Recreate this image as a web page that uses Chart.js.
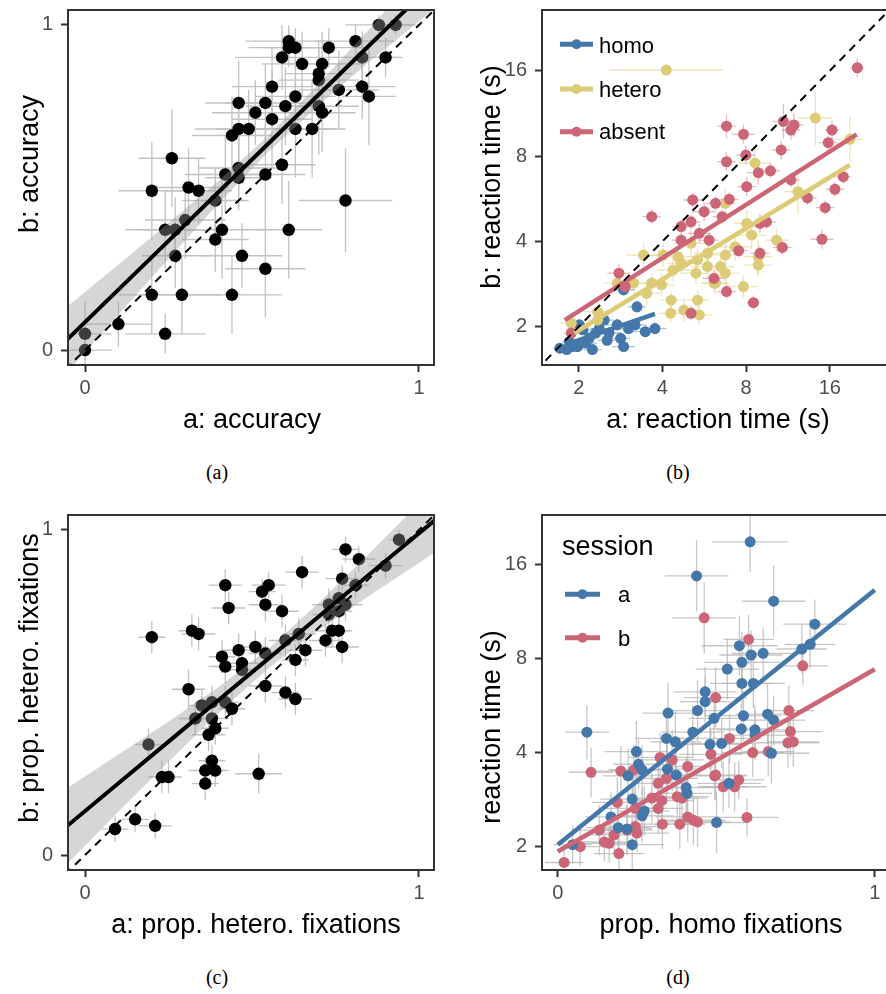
<!DOCTYPE html>
<html>
<head>
<meta charset="utf-8">
<script src="https://cdn.jsdelivr.net/npm/chart.js@4.4.1/dist/chart.umd.min.js"></script>
<style>
  html, body { margin: 0; padding: 0; background: #fff; overflow: hidden; }
  #page { position: relative; width: 886px; height: 994px; overflow: hidden; }
  canvas { position: absolute; }
  .cap { position: absolute; width: 60px; margin-left: -30px; text-align: center;
         font: 20px "Liberation Serif", "Times New Roman", serif; line-height: 20px; }
</style>
</head>
<body>
<div id="page">
  <canvas id="pa" width="443" height="445" style="left:0;top:0"></canvas>
  <canvas id="pb" width="441" height="445" style="left:455px;top:0"></canvas>
  <canvas id="pc" width="443" height="445" style="left:0;top:505px"></canvas>
  <canvas id="pd" width="441" height="445" style="left:455px;top:505px"></canvas>
  <div class="cap" style="left:217px;top:462px">(a)</div>
  <div class="cap" style="left:678px;top:462px">(b)</div>
  <div class="cap" style="left:217px;top:967px">(c)</div>
  <div class="cap" style="left:678px;top:967px">(d)</div>
</div>
<script>
// tick labels
const linTicks = [0, 1];
const logTicks = [2, 4, 8, 16];

// (a) accuracy, session a vs session b
const aX = [0.00,0.00,0.10,0.24,0.20,0.29,0.44,0.27,0.47,0.54, 0.24,0.27,0.30,0.39,0.41,0.20,0.31,0.34,0.26,0.39,
            0.42,0.46,0.46,0.44,0.46,0.49,0.46,0.51,0.61,0.61, 0.63,0.59,0.65,0.73,0.81,0.88,0.93,0.83,0.90,0.71,
            0.70,0.70,0.56,0.63,0.76,0.83,0.85,0.54,0.60,0.56, 0.70,0.71,0.63,0.68,0.59,0.54,0.78,0.61];
const aY = [0.05,0.00,0.08,0.05,0.17,0.17,0.17,0.29,0.29,0.25, 0.37,0.37,0.40,0.34,0.37,0.49,0.50,0.49,0.59,0.46,
            0.54,0.56,0.53,0.66,0.68,0.68,0.76,0.73,0.95,0.93, 0.93,0.90,0.88,0.93,0.95,1.00,1.00,0.90,0.90,0.88,
            0.85,0.83,0.81,0.78,0.80,0.81,0.78,0.76,0.75,0.71, 0.75,0.73,0.68,0.68,0.57,0.54,0.46,0.37];
const aEx = [.08,.08,.10,.12,.10,.12,.15,.10,.12,.12, .12,.10,.12,.10,.12,.10,.12,.10,.10,.10,
             .12,.12,.10,.12,.13,.10,.10,.13,.13,.12, .10,.14,.12,.12,.12,.10,.06,.10,.05,.12,
             .10,.12,.12,.12,.12,.10,.08,.12,.12,.12, .12,.10,.12,.10,.10,.12,.14,.10];
const aEy = [.10,.03,.07,.06,.12,.12,.12,.10,.10,.15, .12,.10,.12,.10,.15,.15,.12,.10,.15,.10,
             .12,.12,.10,.12,.10,.12,.13,.10,.05,.06, .06,.10,.10,.06,.05,.03,.03,.08,.06,.10,
             .10,.10,.12,.12,.12,.10,.15,.12,.12,.15, .15,.12,.15,.15,.12,.15,.16,.15];
const aFitX   = [-0.06, 0.10, 0.25, 0.40, 0.55, 0.70, 0.85, 1.06];
const aFitY   = [0.026, 0.186, 0.336, 0.486, 0.636, 0.786, 0.936, 1.146];
const aBandLo = [-0.076, 0.109, 0.281, 0.451, 0.611, 0.753, 0.886, 1.061];
const aBandHi = [0.128, 0.263, 0.391, 0.521, 0.661, 0.819, 0.986, 1.231];
const linDiag = [-0.06, 1.06];

// (b) reaction time by trial type
const bHomoX = [1.71,1.81,1.90,1.98,2.12,2.24,2.18,2.30,2.37,2.57,2.75,2.83,2.90,3.19,3.24,3.47,3.76,2.47,2.07,2.90,2.01,3.02,2.53,1.85];
const bHomoY = [1.68,1.66,1.70,1.70,1.75,1.66,1.82,1.90,1.97,1.90,2.03,1.82,1.70,2.03,2.35,1.92,1.97,2.11,1.95,2.70,2.03,1.97,1.79,1.77];
const bHomoEx = [.06,.08,.06,.08,.10,.08,.06,.10,.08,.10,.10,.08,.10,.10,.08,.12,.10,.08,.06,.10,.06,.12,.08,.06];
const bHomoEy = [.03,.03,.04,.03,.04,.03,.04,.05,.04,.04,.05,.04,.03,.05,.05,.05,.05,.04,.04,.05,.04,.05,.04,.03];
const bHetX = [4.13,1.88,2.34,2.75,3.42,4.02,3.51,3.66,3.97,4.30, 4.28,4.78,5.35,5.43,4.37,4.55,4.67,5.28,5.81,5.81,
               5.07,3.15,2.34,6.13,14.2,18.9,8.61,12.3,8.04,8.38, 10.3,7.31,6.74,8.85,8.85,6.47,6.74,6.21,7.83,6.74,5.35];
const bHetY = [16.1,2.06,2.26,2.85,3.58,3.58,2.62,2.85,2.81,2.48, 2.23,2.29,2.48,2.20,3.17,3.53,3.35,3.09,3.26,3.63,
               3.94,2.85,2.11,2.85,10.9,9.17,7.55,5.99,4.63,4.21, 4.04,3.83,3.58,3.53,3.30,3.26,3.09,2.85,2.77,5.45,3.44];
const bHetEx = [.60,.10,.12,.12,.15,.15,.12,.15,.12,.10, .10,.12,.10,.12,.15,.15,.12,.12,.15,.12,
                .15,.12,.10,.12,.15,.12,.15,.12,.12,.12, .10,.15,.15,.12,.12,.12,.12,.12,.12,.10,.10];
const bHetEy = [.03,.06,.08,.08,.10,.10,.10,.08,.10,.08, .08,.10,.08,.08,.10,.10,.10,.10,.10,.10,
                .12,.08,.06,.08,.25,.20,.15,.20,.12,.12, .10,.12,.10,.15,.10,.10,.10,.10,.10,.12,.10];
const bAbsX = [3.66,2.79,1.88,5.14,5.65,5.07,4.67,4.67,5.43,2.94, 5.07,6.13,6.21,20.1,10.9,11.9,11.6,6.80,7.83,16.3,
               15.8,10.7,7.98,6.80,8.85,9.79,11.6,8.04,17.9,16.7, 13.3,15.4,6.96,6.56,15.0,10.8,8.97,9.47,8.97,7.52,
               5.89,6.80,8.50];
const bAbsY = [4.89,3.09,1.90,5.60,5.09,4.69,4.51,4.04,4.27,2.77, 2.23,2.96,5.45,16.4,10.6,10.3,9.89,10.2,9.55,9.89,
               8.92,8.41,8.07,7.64,6.99,7.10,6.59,6.24,6.77,6.11, 5.70,5.26,5.63,4.89,4.07,3.81,4.63,4.69,3.63,3.71,
               4.04,2.66,2.43];
const bAbsEx = [.08,.10,.06,.08,.10,.08,.08,.08,.10,.08, .08,.10,.08,.06,.10,.08,.08,.08,.10,.06,
                .08,.08,.08,.08,.10,.08,.08,.08,.06,.08, .08,.08,.08,.08,.10,.08,.08,.08,.08,.08, .08,.08,.06];
const bAbsEy = [.06,.08,.05,.06,.08,.06,.06,.06,.08,.06, .06,.08,.06,.08,.15,.10,.08,.10,.08,.08,
                .06,.08,.08,.08,.10,.06,.06,.08,.06,.06, .06,.06,.06,.06,.08,.06,.08,.06,.06,.06, .06,.06,.06];
const bHomoFitX = [1.93, 3.76], bHomoFitY = [1.77, 2.22];
const bHetFitX  = [1.93, 18.9], bHetFitY  = [1.90, 7.44];
const bAbsFitX  = [1.78, 20.0], bAbsFitY  = [2.11, 9.55];
const logDiag = [1.4, 28];
const bLegend = ['homo', 'hetero', 'absent'];

// (c) proportion of hetero fixations
const cX = [.42,.55,.53,.54,.43,.20,.32,.34,.41,.46, .51,.42,.47,.47,.31,.35,.38,.42,.44,.33,
            .38,.39,.37,.19,.38,.36,.39,.36,.23,.25, .52,.15,.09,.21,.78,.82,.94,.90,.65,.77,
            .81,.59,.73,.76,.78,.76,.73,.74,.76,.72, .77,.66,.60,.64,.63,.54,.54,.60,.63];
const cY = [.83,.83,.81,.77,.76,.67,.69,.68,.61,.63, .64,.58,.59,.57,.51,.46,.47,.47,.45,.42,
            .42,.39,.37,.34,.29,.26,.26,.22,.24,.24, .25,.11,.08,.09,.94,.91,.97,.89,.87,.85,
            .83,.75,.77,.79,.77,.75,.74,.69,.69,.66, .64,.63,.66,.68,.60,.62,.52,.50,.48];
const cEx = [.05,.05,.04,.05,.05,.04,.04,.05,.04,.05, .04,.05,.05,.04,.05,.04,.05,.04,.04,.05,
             .05,.04,.05,.04,.04,.05,.04,.04,.04,.04, .07,.04,.04,.05,.04,.05,.03,.05,.05,.05,
             .04,.05,.05,.04,.05,.04,.05,.05,.04,.05, .05,.05,.05,.05,.04,.05,.05,.04,.05];
const cEy = [.05,.04,.04,.05,.05,.05,.05,.05,.05,.05, .05,.05,.06,.05,.06,.05,.05,.05,.05,.05,
             .05,.05,.05,.05,.05,.04,.05,.05,.05,.05, .06,.04,.04,.04,.04,.04,.03,.04,.05,.04,
             .04,.05,.05,.04,.05,.05,.05,.05,.05,.05, .05,.05,.05,.05,.05,.05,.05,.05,.05];
const cFitX   = [-0.06, 0.10, 0.25, 0.40, 0.55, 0.70, 0.85, 1.06];
const cFitY   = [0.084, 0.221, 0.349, 0.477, 0.605, 0.734, 0.862, 1.041];
const cBandLo = [-0.034, 0.133, 0.287, 0.437, 0.575, 0.692, 0.797, 0.939];
const cBandHi = [0.202, 0.309, 0.411, 0.517, 0.635, 0.776, 0.927, 1.143];

// (d) reaction time vs proportion of homo fixations
const dAX = [.438,.092,.348,.465,.465,.441,.493,.426,.343,.371, .480,.248,.255,.266,.222,.346,.374,.405,.408,.235,
             .273,.266,.168,.191,.219,.235,.047,.501,.607,.681, .811,.770,.796,.573,.610,.648,.581,.535,.581,.617,
             .586,.662,.681,.579,.622,.622,.517,.674,.540];
const dAY = [14.7,4.65,5.35,6.26,5.82,5.45,5.15,4.65,4.44,4.33, 4.25,4.03,3.67,3.52,3.37,3.54,3.39,3.09,2.96,2.84,
             2.60,2.51,2.49,2.30,2.28,2.03,2.03,2.39,18.9,12.2, 10.3,8.58,8.88,8.79,8.21,8.31,7.78,7.40,6.66,6.66,
             5.25,5.31,5.08,4.76,4.73,4.55,4.28,3.98,3.19];
const dAEx = [.10,.07,.08,.10,.08,.10,.08,.10,.10,.08, .10,.10,.08,.10,.08,.10,.08,.10,.08,.10,
              .08,.10,.08,.10,.08,.10,.06,.10,.12,.10, .10,.08,.08,.12,.10,.10,.12,.10,.10,.10,
              .12,.10,.10,.10,.12,.10,.10,.12,.10];
const dAEy = [.30,.22,.25,.20,.20,.25,.20,.22,.20,.25, .20,.25,.20,.20,.22,.20,.20,.25,.20,.20,
              .20,.22,.20,.20,.20,.20,.15,.25,.25,.30, .20,.20,.20,.25,.20,.20,.25,.25,.20,.20,
              .20,.25,.20,.20,.20,.20,.20,.25,.20];
const dBX = [.462,.105,.199,.240,.323,.361,.410,.483,.498,.317, .343,.188,.245,.297,.328,.317,.377,.392,.410,.428,
             .385,.330,.245,.250,.219,.178,.147,.162,.131,.071, .193,.020,.498,.602,.773,.729,.734,.726,.743,.542,
             .615,.664,.495,.522,.558,.571,.597,.441];
const dBY = [10.8,3.46,3.49,3.52,3.86,3.79,3.61,3.95,3.39,3.19, 3.31,2.77,2.65,2.86,2.81,2.65,2.89,2.86,2.49,2.43,
             2.36,2.36,2.32,2.21,2.26,2.18,2.07,2.05,2.26,2.00, 1.90,1.78,6.00,9.21,7.58,5.45,4.67,4.30,4.33,4.44,
             4.00,4.03,3.37,3.11,3.11,3.27,2.48,2.40];
const dBEx = [.10,.07,.08,.08,.10,.10,.08,.10,.10,.08, .10,.08,.10,.08,.10,.08,.10,.08,.10,.10,
              .08,.10,.08,.10,.08,.08,.08,.08,.08,.06, .08,.06,.10,.08,.08,.08,.10,.10,.08,.10,
              .10,.08,.10,.08,.10,.08,.10,.10];
const dBEy = [.30,.20,.20,.20,.20,.25,.20,.20,.20,.20, .20,.20,.20,.20,.20,.20,.20,.20,.20,.20,
              .20,.20,.15,.15,.20,.15,.15,.15,.20,.15, .15,.10,.25,.20,.15,.20,.20,.20,.20,.20,
              .20,.20,.20,.20,.20,.15,.15,.20];
const dFitX = [0, 1];
const dAFitY = [2.03, 13.25];
const dBFitY = [1.93, 7.39];
const dLegend = ['a', 'b'];

const FONT = '"Liberation Sans", Arial, Helvetica, sans-serif';
const BLUE = '#4477AA', YELLOW = '#DDCC77', RED = '#CC6677';

function pts(xs, ys) { return xs.map((x, i) => ({ x: x, y: ys[i] })); }

function axis(type, min, max, tickVals, size, horiz) {
  return {
    type: type, min: min, max: max,
    afterBuildTicks: s => { s.ticks = tickVals.map(v => ({ value: v })); },
    afterFit: s => {
      if (horiz) s.height = size; else s.width = size;
      // keep the plot area where it is, no extra room for edge labels
      s.paddingTop = 0; s.paddingBottom = 0; s.paddingLeft = 0; s.paddingRight = 0;
    },
    ticks: { color: '#4d4d4d', font: { family: FONT, size: 20 }, padding: horiz ? 4 : 8,
             autoSkip: false, maxRotation: 0, callback: v => String(v) },
    grid: { drawOnChartArea: false, drawTicks: true, tickLength: 7, tickColor: '#333', tickWidth: 2 },
    border: { display: false },
    title: { display: false }
  };
}

function scatterSet(xs, ys, ex, ey, color, errColor, r, order, relX, relY) {
  return { type: 'scatter', data: pts(xs, ys), backgroundColor: color, pointRadius: r,
           pointHoverRadius: r, borderWidth: 0, order: order, clip: 0,
           errX: ex, errY: ey, errColor: errColor, relX: relX, relY: relY };
}
function lineSet(xs, ys, color, width, order, dash) {
  return { type: 'line', data: pts(xs, ys), borderColor: color, borderWidth: width,
           borderDash: dash || [], pointRadius: 0, fill: false, tension: 0, order: order, clip: 0 };
}
function bandSets(xs, lo, hi) {
  return [
    { type: 'line', data: pts(xs, lo), borderWidth: 0, pointRadius: 0, fill: false, order: 2, clip: 0 },
    { type: 'line', data: pts(xs, hi), borderWidth: 0, pointRadius: 0, fill: '-1', order: 2, clip: 0,
      backgroundColor: 'rgba(153,153,153,0.4)' }
  ];
}

function deco(meta) {
  return {
    id: 'deco',
    beforeDatasetsDraw(chart) {
      const ctx = chart.ctx, a = chart.chartArea, xs = chart.scales.x, ys = chart.scales.y;
      ctx.save();
      ctx.beginPath();
      ctx.rect(a.left, a.top, a.right - a.left, a.bottom - a.top);
      ctx.clip();
      ctx.lineWidth = 1.3;
      chart.data.datasets.forEach(ds => {
        if (!ds.errX) return;
        ctx.strokeStyle = ds.errColor;
        ds.data.forEach((p, i) => {
          const ex = ds.errX[i], ey = ds.errY[i];
          const x0 = ds.relX ? p.x / (1 + ex) : p.x - ex, x1 = ds.relX ? p.x * (1 + ex) : p.x + ex;
          const y0 = ds.relY ? p.y / (1 + ey) : p.y - ey, y1 = ds.relY ? p.y * (1 + ey) : p.y + ey;
          const px = xs.getPixelForValue(p.x), py = ys.getPixelForValue(p.y);
          ctx.beginPath();
          ctx.moveTo(xs.getPixelForValue(x0), py);
          ctx.lineTo(xs.getPixelForValue(x1), py);
          ctx.moveTo(px, ys.getPixelForValue(y0));
          ctx.lineTo(px, ys.getPixelForValue(y1));
          ctx.stroke();
        });
      });
      ctx.restore();
    },
    afterDraw(chart) {
      const ctx = chart.ctx, a = chart.chartArea;
      ctx.save();
      ctx.strokeStyle = '#333';
      ctx.lineWidth = 2;
      ctx.strokeRect(a.left, a.top, a.right - a.left, a.bottom - a.top);
      ctx.fillStyle = '#000';
      ctx.font = '27px ' + FONT;
      ctx.textAlign = 'center';
      ctx.textBaseline = 'alphabetic';
      ctx.fillText(meta.xTitle, meta.xPos[0], meta.xPos[1]);
      ctx.save();
      ctx.translate(meta.yPos[0], meta.yPos[1]);
      ctx.rotate(-Math.PI / 2);
      ctx.fillText(meta.yTitle, 0, 0);
      ctx.restore();
      const L = meta.legend;
      if (L) {
        ctx.textAlign = 'left';
        if (L.title) {
          ctx.font = '27px ' + FONT;
          ctx.fillText(L.title, L.titlePos[0], L.titlePos[1]);
        }
        L.labels.forEach((lab, i) => {
          const y = L.lineY[i];
          ctx.strokeStyle = L.colors[i];
          ctx.lineWidth = 5;
          ctx.beginPath();
          ctx.moveTo(L.x0, y);
          ctx.lineTo(L.x1, y);
          ctx.stroke();
          ctx.fillStyle = L.colors[i];
          ctx.beginPath();
          ctx.arc((L.x0 + L.x1) / 2, y, 5, 0, Math.PI * 2);
          ctx.fill();
          ctx.fillStyle = '#000';
          ctx.font = '22px ' + FONT;
          ctx.fillText(lab, L.textX, L.baseY[i]);
        });
      }
      ctx.restore();
    }
  };
}

function makeChart(id, datasets, xAxis, yAxis, padRight, meta) {
  return new Chart(id, {
    type: 'scatter',
    data: { datasets: datasets },
    options: {
      responsive: false,
      animation: false,
      events: [],
      layout: { padding: { top: 10, right: padRight, left: 0, bottom: 0 } },
      scales: { x: xAxis, y: yAxis },
      plugins: { legend: { display: false }, tooltip: { enabled: false } }
    },
    plugins: [deco(meta)]
  });
}

// (a)
makeChart('pa', [
  lineSet(linDiag, linDiag, '#000', 2, 0, [8, 6]),
  lineSet(aFitX, aFitY, '#000', 4, 1),
  ...bandSets(aFitX, aBandLo, aBandHi),
  scatterSet(aX, aY, aEx, aEy, '#000', '#c2c2c2', 6.2, 5, false, false)
], axis('linear', -0.051, 1.045, linTicks, 80, true),
   axis('linear', -0.046, 1.046, linTicks, 68, false), 9,
   { xTitle: 'a: accuracy', xPos: [252, 428], yTitle: 'b: accuracy', yPos: [38, 164] });

// (b)
makeChart('pb', [
  lineSet(logDiag, logDiag, '#000', 2, 0, [8, 6]),
  lineSet(bHomoFitX, bHomoFitY, BLUE, 4.5, 1),
  lineSet(bHetFitX, bHetFitY, YELLOW, 4.5, 1),
  lineSet(bAbsFitX, bAbsFitY, RED, 4.5, 1),
  scatterSet(bHomoX, bHomoY, bHomoEx, bHomoEy, BLUE, 'rgba(68,119,170,0.45)', 5.5, 7, true, true),
  scatterSet(bHetX, bHetY, bHetEx, bHetEy, YELLOW, 'rgba(221,204,119,0.5)', 5.5, 6, true, true),
  scatterSet(bAbsX, bAbsY, bAbsEx, bAbsEy, RED, 'rgba(204,102,119,0.45)', 5.5, 5, true, true)
], axis('logarithmic', 1.475, 26.46, logTicks, 80, true),
   axis('logarithmic', 1.465, 26.22, logTicks, 87, false), 0,
   { xTitle: 'a: reaction time (s)', xPos: [263, 428], yTitle: 'b: reaction time (s)', yPos: [45, 177],
     legend: { labels: bLegend, colors: [BLUE, YELLOW, RED], x0: 105, x1: 138, textX: 144,
               lineY: [44.3, 89, 131.7], baseY: [52.7, 96.7, 139.3] } });

// (c)
makeChart('pc', [
  lineSet(linDiag, linDiag, '#000', 2, 0, [8, 6]),
  lineSet(cFitX, cFitY, '#000', 4, 1),
  ...bandSets(cFitX, cBandLo, cBandHi),
  scatterSet(cX, cY, cEx, cEy, '#000', '#c2c2c2', 6.2, 5, false, false)
], axis('linear', -0.051, 1.045, linTicks, 80, true),
   axis('linear', -0.046, 1.046, linTicks, 68, false), 9,
   { xTitle: 'a: prop. hetero. fixations', xPos: [256, 428], yTitle: 'b: prop. hetero. fixations', yPos: [38, 173] });

// (d)
makeChart('pd', [
  lineSet(dFitX, dAFitY, BLUE, 4.5, 1),
  lineSet(dFitX, dBFitY, RED, 4.5, 1),
  scatterSet(dAX, dAY, dAEx, dAEy, BLUE, 'rgba(180,180,180,0.75)', 5.5, 5, false, true),
  scatterSet(dBX, dBY, dBEx, dBEy, RED, 'rgba(180,180,180,0.75)', 5.5, 6, false, true)
], axis('linear', -0.0496, 1.0496, linTicks, 80, true),
   axis('logarithmic', 1.684, 23.03, logTicks, 87, false), 0,
   { xTitle: 'prop. homo fixations', xPos: [266, 428], yTitle: 'reaction time (s)', yPos: [45, 222],
     legend: { title: 'session', titlePos: [107, 50], labels: dLegend, colors: [BLUE, RED],
               x0: 110, x1: 145, textX: 163, lineY: [89.3, 132.7], baseY: [96.7, 140.7] } });
</script>
</body>
</html>
